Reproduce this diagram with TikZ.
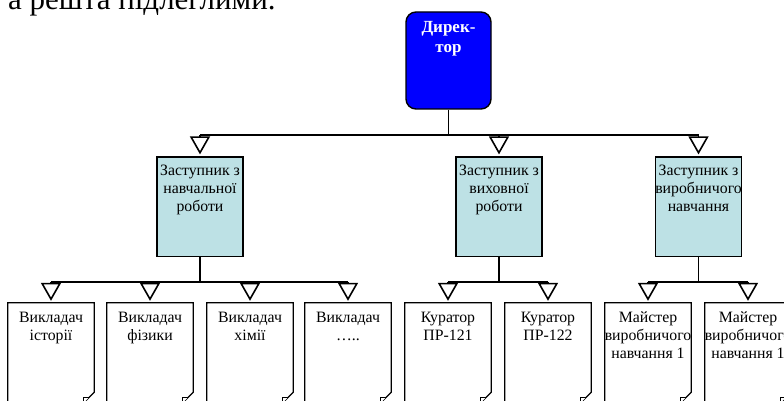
\documentclass[tikz,border=0pt]{standalone}
\usepackage{fontspec}
\setmainfont{Liberation Serif}
\usetikzlibrary{arrows.meta}
\usetikzlibrary{calc}

\definecolor{dirblue}{RGB}{0,0,255}
\definecolor{deplight}{RGB}{189,225,229}

\begin{document}
\begin{tikzpicture}[x=1pt,y=1pt,yscale=-1,xscale=1,
  conn/.style={line width=1.6pt},
  arr/.style={line width=1.6pt,shorten >=2pt,-{Triangle[open,width=20pt,length=18pt]}},
  dirbox/.style={draw,line width=1.4pt,fill=dirblue,rounded corners=10pt,minimum width=85pt,minimum height=97pt,inner sep=0pt},
  depbox/.style={draw,line width=1.2pt,fill=deplight,minimum width=86pt,minimum height=99.5pt,inner sep=0pt},
  docbox/.style={minimum width=86pt,minimum height=100pt,inner sep=0pt},
  docline/.style={line width=1.2pt,line join=miter,fill=white},
  boxtext/.style={anchor=north,inner sep=0pt,align=center,font=\fontsize{15.8}{18}\selectfont}]
\useasboundingbox (0,0) rectangle (784,401);
\clip (0,0) rectangle (784,401);

% Text Node
\node (intro) [anchor=base west,inner sep=0pt,font=\fontsize{31}{33}\selectfont] at (8,9.5) {а решта підлеглими.};

%Shape: Rounded Rect [director]
\node (dir) [dirbox] at (448.5,60.5) {};
% Text Node
\node (dirtxt) [boxtext,text=white,font=\bfseries\fontsize{17}{20}\selectfont] at ($(dir.north)+(0,9.5)$) {Дирек-\\тор};

%Shape: Rectangle [deputies]
\node (z1) [depbox] at (200,206.75) {};
\node (z2) [depbox] at (499,206.75) {};
\node (z3) [depbox] at (698.5,206.75) {};
% Text Node
\node (zt1) [boxtext] at ($(z1.north)+(0,8)$) {Заступник з\\навчальної\\роботи};
\node (zt2) [boxtext] at ($(z2.north)+(0,8)$) {Заступник з\\виховної\\роботи};
\node (zt3) [boxtext] at ($(z3.north)+(0,8)$) {Заступник з\\виробничого\\навчання};

%Shape: Folded Corner [staff]
\node (v1) [docbox] at (51,353) {};
\node (v2) [docbox] at (150,353) {};
\node (v3) [docbox] at (250,353) {};
\node (v4) [docbox] at (348,353) {};
\node (v5) [docbox] at (448,353) {};
\node (v6) [docbox] at (548,353) {};
\node (v7) [docbox] at (648,353) {};
\node (v8) [docbox] at (748,353) {};
\filldraw[docline] (v1.north west) -- (v1.north east) -- ($(v1.south east)+(0,-11)$) -- ($(v1.south east)+(-11,0)$) -- (v1.south west) -- cycle;
\draw[docline] ($(v1.south east)+(-11,0)$) -- ($(v1.south east)+(-11,-5.5)$) -- ($(v1.south east)+(-5.5,-5.5)$);
\filldraw[docline] (v2.north west) -- (v2.north east) -- ($(v2.south east)+(0,-11)$) -- ($(v2.south east)+(-11,0)$) -- (v2.south west) -- cycle;
\draw[docline] ($(v2.south east)+(-11,0)$) -- ($(v2.south east)+(-11,-5.5)$) -- ($(v2.south east)+(-5.5,-5.5)$);
\filldraw[docline] (v3.north west) -- (v3.north east) -- ($(v3.south east)+(0,-11)$) -- ($(v3.south east)+(-11,0)$) -- (v3.south west) -- cycle;
\draw[docline] ($(v3.south east)+(-11,0)$) -- ($(v3.south east)+(-11,-5.5)$) -- ($(v3.south east)+(-5.5,-5.5)$);
\filldraw[docline] (v4.north west) -- (v4.north east) -- ($(v4.south east)+(0,-11)$) -- ($(v4.south east)+(-11,0)$) -- (v4.south west) -- cycle;
\draw[docline] ($(v4.south east)+(-11,0)$) -- ($(v4.south east)+(-11,-5.5)$) -- ($(v4.south east)+(-5.5,-5.5)$);
\filldraw[docline] (v5.north west) -- (v5.north east) -- ($(v5.south east)+(0,-11)$) -- ($(v5.south east)+(-11,0)$) -- (v5.south west) -- cycle;
\draw[docline] ($(v5.south east)+(-11,0)$) -- ($(v5.south east)+(-11,-5.5)$) -- ($(v5.south east)+(-5.5,-5.5)$);
\filldraw[docline] (v6.north west) -- (v6.north east) -- ($(v6.south east)+(0,-11)$) -- ($(v6.south east)+(-11,0)$) -- (v6.south west) -- cycle;
\draw[docline] ($(v6.south east)+(-11,0)$) -- ($(v6.south east)+(-11,-5.5)$) -- ($(v6.south east)+(-5.5,-5.5)$);
\filldraw[docline] (v7.north west) -- (v7.north east) -- ($(v7.south east)+(0,-11)$) -- ($(v7.south east)+(-11,0)$) -- (v7.south west) -- cycle;
\draw[docline] ($(v7.south east)+(-11,0)$) -- ($(v7.south east)+(-11,-5.5)$) -- ($(v7.south east)+(-5.5,-5.5)$);
\filldraw[docline] (v8.north west) -- (v8.north east) -- ($(v8.south east)+(0,-11)$) -- ($(v8.south east)+(-11,0)$) -- (v8.south west) -- cycle;
\draw[docline] ($(v8.south east)+(-11,0)$) -- ($(v8.south east)+(-11,-5.5)$) -- ($(v8.south east)+(-5.5,-5.5)$);
% Text Node
\node (vt1) [boxtext] at ($(v1.north)+(0,9)$) {Викладач\\історії};
\node (vt2) [boxtext] at ($(v2.north)+(0,9)$) {Викладач\\фізики};
\node (vt3) [boxtext] at ($(v3.north)+(0,9)$) {Викладач\\хімії};
\node (vt4) [boxtext] at ($(v4.north)+(0,9)$) {Викладач\\…..};
\node (vt5) [boxtext] at ($(v5.north)+(0,9)$) {Куратор\\ПР-121};
\node (vt6) [boxtext] at ($(v6.north)+(0,9)$) {Куратор\\ПР-122};
\node (vt7) [boxtext] at ($(v7.north)+(0,9)$) {Майстер\\виробничого\\навчання 1};
\node (vt8) [boxtext] at ($(v8.north)+(0,9)$) {Майстер\\виробничого\\навчання 1};

%Straight Lines [bus, level 1]
\coordinate (b1) at (448.5,135);
\draw[conn] (dir.south) -- (b1);
\draw[conn] (z1.north |- b1) -- (z3.north |- b1);
\draw[arr] (z1.north |- b1) -- (z1.north);
\draw[arr] (z2.north |- b1) -- (z2.north);
\draw[arr] (z3.north |- b1) -- (z3.north);

%Straight Lines [bus, level 2]
\coordinate (b2) at (448,282);
\draw[conn] (z1.south) -- (z1.south |- b2);
\draw[conn] (v1.north |- b2) -- (v4.north |- b2);
\draw[arr] (v1.north |- b2) -- (v1.north);
\draw[arr] (v2.north |- b2) -- (v2.north);
\draw[arr] (v3.north |- b2) -- (v3.north);
\draw[arr] (v4.north |- b2) -- (v4.north);
\draw[conn] (z2.south) -- (z2.south |- b2);
\draw[conn] (v5.north |- b2) -- (v6.north |- b2);
\draw[arr] (v5.north |- b2) -- (v5.north);
\draw[arr] (v6.north |- b2) -- (v6.north);
\draw[conn] (z3.south) -- (z3.south |- b2);
\draw[conn] (v7.north |- b2) -- (v8.north |- b2);
\draw[arr] (v7.north |- b2) -- (v7.north);
\draw[arr] (v8.north |- b2) -- (v8.north);

\end{tikzpicture}
\end{document}
